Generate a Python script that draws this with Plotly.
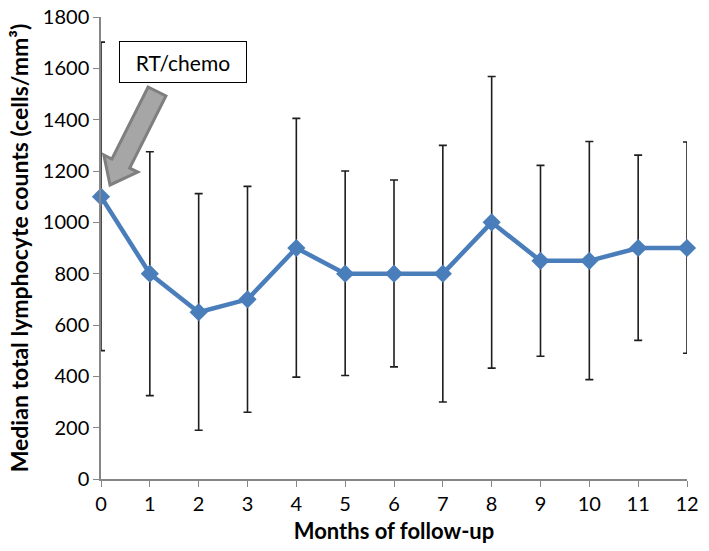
import plotly.graph_objects as go

months = list(range(13))
median_counts = [1100, 800, 650, 700, 900, 800, 800, 800, 1000, 850, 850, 900, 900]
upper_bound = [1702, 1275, 1112, 1140, 1405, 1200, 1165, 1300, 1568, 1222, 1315, 1262, 1313]
lower_bound = [500, 325, 190, 260, 397, 403, 437, 300, 432, 478, 387, 540, 490]

err_plus = [u - m for u, m in zip(upper_bound, median_counts)]
err_minus = [m - l for m, l in zip(median_counts, lower_bound)]

FONT = "Lato, Open Sans, sans-serif"
W, H = 709, 551
L, R, T, B = 101, 22, 17, 72
PW, PH = W - L - R, H - T - B

def to_paper(px, py):
    return (px - L) / PW, (H - B - py) / PH

fig = go.Figure()
fig.add_trace(go.Scatter(
    x=months, y=median_counts, mode="markers",
    marker=dict(size=1, color="rgba(0,0,0,0)"),
    error_y=dict(type="data", symmetric=False, array=err_plus, arrayminus=err_minus,
                 color="#1E1E1E", thickness=1.6, width=4),
    showlegend=False, hoverinfo="skip", cliponaxis=False,
))
fig.add_trace(go.Scatter(
    x=months, y=median_counts, mode="lines+markers",
    line=dict(color="#4A7EBB", width=4.5),
    marker=dict(symbol="diamond", size=14, color="#4A7EBB"),
    showlegend=False, cliponaxis=False,
))

# Block arrow (decoration) in pixel geometry converted to paper coords
arrow_px = [(148.1, 87.0), (165.9, 96.0), (129.7, 168.0), (137.8, 172.0),
            (110.0, 185.0), (103.8, 155.0), (111.9, 159.0)]
pts = [to_paper(x, y) for x, y in arrow_px]
path = "M " + " L ".join(f"{x:.4f},{y:.4f}" for x, y in pts) + " Z"
fig.add_shape(type="path", path=path, xref="paper", yref="paper",
              fillcolor="#A6A6A6", line=dict(color="#7F7F7F", width=3))

bx, by = to_paper(183, 62)
fig.add_annotation(x=bx, y=by, xref="paper", yref="paper", text="RT/chemo",
                   xanchor="center", yanchor="middle",
                   showarrow=False, font=dict(family=FONT, size=21, color="#000"),
                   bgcolor="white", bordercolor="#000", borderwidth=1,
                   width=126, height=40, borderpad=0)

axis_common = dict(showgrid=False, zeroline=False, showline=True, linecolor="#868686",
                   linewidth=1.5, ticks="outside", tickcolor="#868686", ticklen=6,
                   automargin=False,
                   tickfont=dict(family=FONT, size=20, color="#000"))
fig.update_xaxes(range=[0, 12], tickmode="array", tickvals=months,
                 title=dict(text="<b>Months of follow-up</b>",
                            font=dict(family=FONT, size=22, color="#000"), standoff=10),
                 **axis_common)
fig.update_yaxes(range=[0, 1800], tickmode="linear", dtick=200,
                 title=dict(text="<b>Median total lymphocyte counts (cells/mm³)</b>",
                            font=dict(family=FONT, size=23, color="#000"), standoff=8),
                 **axis_common)
fig.update_layout(width=W, height=H, margin=dict(l=L, r=R, t=T, b=B),
                  plot_bgcolor="white", paper_bgcolor="white")
fig.write_html("out.html", config={"displayModeBar": False},
               post_script="document.body.style.margin='0';")
